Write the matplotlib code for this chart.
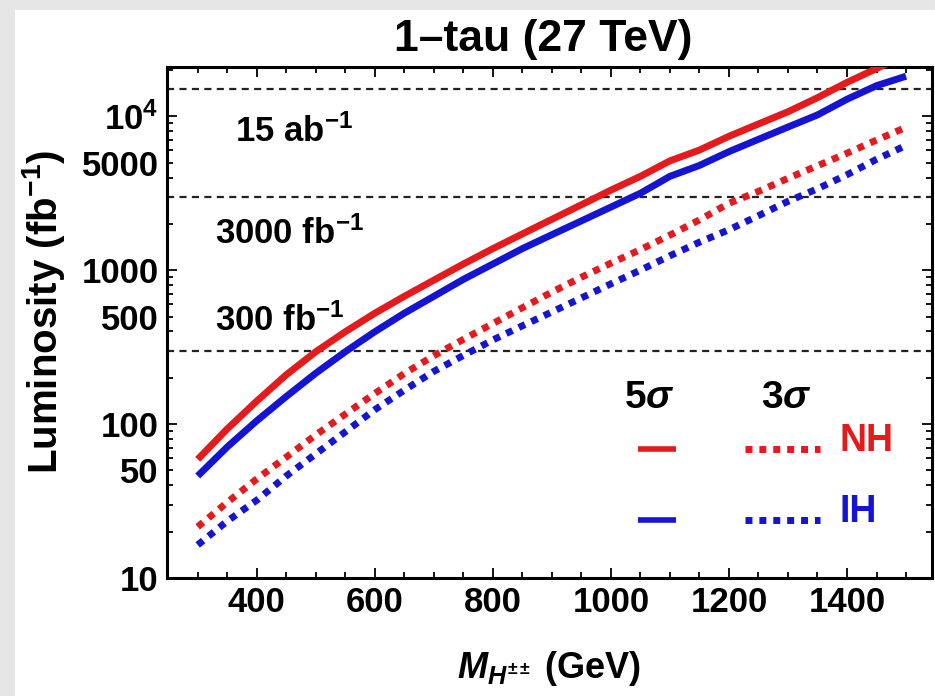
import matplotlib
matplotlib.use("Agg")
import matplotlib.pyplot as plt
from matplotlib.patches import Rectangle
from matplotlib.ticker import FixedLocator, FixedFormatter

plt.rcParams['font.family'] = ['Liberation Sans', 'DejaVu Sans']
plt.rcParams['font.weight'] = 'bold'
plt.rcParams['mathtext.fontset'] = 'custom'
plt.rcParams['mathtext.rm'] = 'Liberation Sans:bold'
plt.rcParams['mathtext.bf'] = 'Liberation Sans:bold'
plt.rcParams['mathtext.it'] = 'Liberation Sans:italic:bold'

# Doubly-charged Higgs mass (GeV)
mass = [300, 350, 400, 450, 500, 550, 600, 650, 700, 750, 800, 850, 900,
        950, 1000, 1050, 1100, 1150, 1200, 1250, 1300, 1350, 1400, 1450, 1500]

# Required luminosity (fb^-1)
nh_5sigma = [59, 93, 141, 209, 295, 398, 525, 676, 861, 1096, 1380, 1720, 2140,
             2660, 3310, 4070, 5130, 6030, 7410, 8910, 10700, 13200, 16600, 20400, 25100]
ih_5sigma = [46, 71, 105, 151, 214, 295, 398, 525, 676, 871, 1096, 1380, 1700,
             2090, 2570, 3160, 4070, 4790, 5890, 7080, 8510, 10200, 12900, 15800, 18200]
nh_3sigma = [21.5, 31, 44, 61, 85, 116, 158, 213, 278, 355, 450, 570, 720,
             900, 1110, 1360, 1690, 2120, 2720, 3250, 3950, 4770, 5750, 7000, 8470]
ih_3sigma = [16.4, 23.4, 32, 46, 64, 89, 124, 166, 220, 279, 352, 435, 535,
             660, 815, 1000, 1240, 1520, 1830, 2260, 2800, 3380, 4170, 5250, 6460]

# Reference luminosities (fb^-1) and their labels
ref_lumi = [15000, 3000, 300]
ref_labels = [r'15 ab$^{\mathbf{-1}}$', r'3000 fb$^{\mathbf{-1}}$', r'300 fb$^{\mathbf{-1}}$']
ref_label_pos = [(363, 6820), (329, 1476), (329, 401)]

x_ticks = [400, 600, 800, 1000, 1200, 1400]
y_major = [10, 100, 1000, 10000]
y_major_labels = ['10', '100', '1000', r'$10^4$']
y_minor_labeled = {50: '50', 500: '500', 5000: '5000'}

RED = '#e41a1c'
BLUE = '#1414d2'
FS = 25

fig = plt.figure(figsize=(9.35, 6.96), dpi=100, facecolor='#e6e6e6')
fig.patches.append(Rectangle((15 / 935, 0), 1, 1 - 10 / 696, transform=fig.transFigure,
                             facecolor='white', edgecolor='none', zorder=-5))

ax = fig.add_axes([167 / 935, 1 - 578 / 696, (932 - 167) / 935, (578 - 67) / 696])
ax.set_facecolor('white')
ax.set_yscale('log')
ax.set_xlim(248, 1544)
ax.set_ylim(10, 10 ** 4.32)

dot = (0, (1, 1))
ax.plot(mass, nh_5sigma, color=RED, lw=5, solid_capstyle='butt', zorder=3)
ax.plot(mass, ih_5sigma, color=BLUE, lw=5, solid_capstyle='butt', zorder=3)
ax.plot(mass, nh_3sigma, color=RED, lw=5, linestyle=dot, dash_capstyle='butt', zorder=3)
ax.plot(mass, ih_3sigma, color=BLUE, lw=5, linestyle=dot, dash_capstyle='butt', zorder=3)

for lum, lab, (tx, ty) in zip(ref_lumi, ref_labels, ref_label_pos):
    ax.axhline(lum, color='#222222', lw=1.6, linestyle=(0, (3.2, 2.4)), zorder=2)
    ax.text(tx, ty, lab, fontsize=FS, fontweight='bold', ha='left', va='baseline')

# Frame ticks
ax.xaxis.set_major_locator(FixedLocator(x_ticks))
ax.xaxis.set_minor_locator(FixedLocator(list(range(300, 1550, 50))))
ax.set_xticklabels([str(v) for v in x_ticks])
minor_vals = [m * 10 ** e for e in range(1, 5) for m in range(2, 10) if m * 10 ** e < 25000]
ax.yaxis.set_major_locator(FixedLocator(y_major))
ax.yaxis.set_major_formatter(FixedFormatter(y_major_labels))
ax.yaxis.set_minor_locator(FixedLocator(minor_vals))
ax.yaxis.set_minor_formatter(FixedFormatter([y_minor_labeled.get(v, '') for v in minor_vals]))
ax.tick_params(which='both', direction='in', top=True, right=True, width=1.3,
               labelsize=FS, color='black')
ax.tick_params(which='major', length=7, pad=6)
ax.tick_params(which='minor', length=4, pad=6)
for s in ax.spines.values():
    s.set_linewidth(2.2)

ax.set_xlabel(r'$M_{H^{\pm\pm}}$ (GeV)', fontsize=26, fontweight='bold')
ax.xaxis.set_label_coords(0.5, -0.138)
ax.set_ylabel(r'Luminosity (fb$^{\mathbf{-1}}$)', fontsize=29, fontweight='bold')
ax.yaxis.set_label_coords(-0.131, 0.52)
fig.text(543 / 935, 1 - 40 / 696, '1\u2013tau (27 TeV)', fontsize=32,
         fontweight='bold', ha='center', va='center')

# Legend built from line samples and text
lt = ax.transAxes
ax.text(0.631, 0.333, r'5$\sigma$', transform=lt, fontsize=28, ha='center', va='baseline')
ax.text(0.809, 0.333, r'3$\sigma$', transform=lt, fontsize=28, ha='center', va='baseline')
ax.plot([0.616, 0.665], [0.2524, 0.2524], transform=lt, color=RED, lw=4, solid_capstyle='butt')
ax.plot([0.616, 0.665], [0.1135, 0.1135], transform=lt, color=BLUE, lw=4, solid_capstyle='butt')
ax.plot([0.7556, 0.8536], [0.2524, 0.2524], transform=lt, color=RED, lw=5, linestyle=dot,
        dash_capstyle='butt')
ax.plot([0.7556, 0.8536], [0.1135, 0.1135], transform=lt, color=BLUE, lw=5, linestyle=dot,
        dash_capstyle='butt')
ax.text(0.8797, 0.268, 'NH', transform=lt, fontsize=27, color=RED, ha='left', va='center')
ax.text(0.8797, 0.129, 'IH', transform=lt, fontsize=27, color=BLUE, ha='left', va='center')

fig.savefig('out.png', dpi=100, facecolor=fig.get_facecolor())
